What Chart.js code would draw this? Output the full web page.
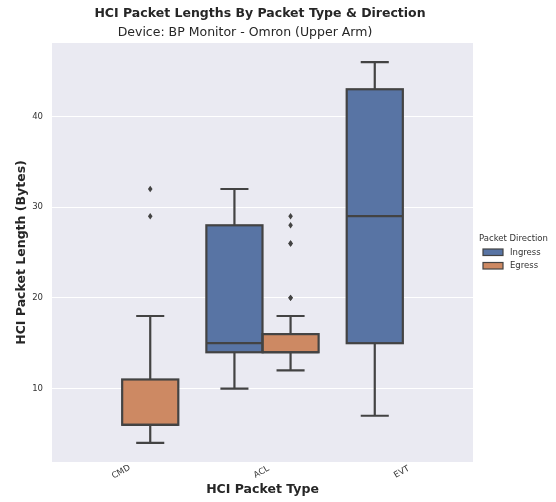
<!DOCTYPE html>
<html>
<head>
<meta charset="utf-8">
<script src="https://cdn.jsdelivr.net/npm/chart.js@4"></script>
<style>
  body { margin: 0; background: #fff; }
  #wrap { width: 556px; height: 502px; }
</style>
</head>
<body>
<div id="wrap"><canvas id="boxGraf"></canvas></div>
<script>
// data
const categories = ['CMD', 'ACL', 'EVT'];
const yTicks = [10, 20, 30, 40];

const ingressBox = [null, [14, 28], [15, 43]];
const ingressMedian = [null, 15, 29];
const ingressWhiskers = [null, [10, 32], [7, 46]];
const ingressOutliers = [[], [], []];

const egressBox = [[6, 11], [14, 16], null];
const egressMedian = [6, 14, null];
const egressWhiskers = [[4, 18], [12, 18], null];
const egressOutliers = [[29, 32], [20, 20, 26, 26, 28, 29], []];

const barvy = { ingress: '#5874a4', egress: '#cd8963', linka: '#434343', pozadi: '#eaeaf2' };
const pismo = 'DejaVu Sans';

const boxPlugin = {
    id: 'boxPlugin',
    beforeDraw(chart) {
        const { ctx, chartArea: a } = chart;
        ctx.save();
        ctx.fillStyle = barvy.pozadi;
        ctx.fillRect(a.left, a.top, a.right - a.left, a.bottom - a.top);
        ctx.restore();
    },
    afterDatasetsDraw(chart) {
        const { ctx } = chart;
        const y = chart.scales.y;
        const info = [
            { med: ingressMedian, wh: ingressWhiskers, out: ingressOutliers, box: ingressBox },
            { med: egressMedian, wh: egressWhiskers, out: egressOutliers, box: egressBox }
        ];
        ctx.save();
        ctx.strokeStyle = barvy.linka;
        ctx.fillStyle = barvy.linka;
        ctx.lineWidth = 2.2;
        ctx.lineCap = 'butt';
        info.forEach((s, i) => {
            const meta = chart.getDatasetMeta(i);
            meta.data.forEach((el, j) => {
                if (!s.box[j]) return;
                const x = el.x;
                const w = el.width;
                const cap = w / 4;
                const [lo, hi] = s.wh[j];
                const [q1, q3] = s.box[j];
                const p1 = y.getPixelForValue(q1);
                const p3 = y.getPixelForValue(q3);
                ctx.beginPath();
                ctx.moveTo(x, p3);
                ctx.lineTo(x, y.getPixelForValue(hi));
                ctx.moveTo(x - cap, y.getPixelForValue(hi));
                ctx.lineTo(x + cap, y.getPixelForValue(hi));
                ctx.moveTo(x, p1);
                ctx.lineTo(x, y.getPixelForValue(lo));
                ctx.moveTo(x - cap, y.getPixelForValue(lo));
                ctx.lineTo(x + cap, y.getPixelForValue(lo));
                const m = y.getPixelForValue(s.med[j]);
                ctx.moveTo(x - w / 2, m);
                ctx.lineTo(x + w / 2, m);
                ctx.stroke();
                ctx.strokeRect(x - w / 2, p3, w, p1 - p3);
                s.out[j].forEach(v => {
                    const py = y.getPixelForValue(v);
                    ctx.beginPath();
                    ctx.moveTo(x, py - 3.2);
                    ctx.lineTo(x + 2.3, py);
                    ctx.lineTo(x, py + 3.2);
                    ctx.lineTo(x - 2.3, py);
                    ctx.closePath();
                    ctx.fill();
                });
            });
        });
        ctx.restore();
    },
    afterDraw(chart) {
        const { ctx, chartArea: a } = chart;
        const x = chart.scales.x;
        ctx.save();
        ctx.fillStyle = '#262626';
        ctx.textAlign = 'center';
        ctx.textBaseline = 'middle';
        ctx.font = 'bold 12.5px "' + pismo + '"';
        ctx.fillText('HCI Packet Lengths By Packet Type & Direction', 260, 14);
        ctx.font = '12.5px "' + pismo + '"';
        ctx.fillText('Device: BP Monitor - Omron (Upper Arm)', 245, 33);
        ctx.font = 'bold 12.5px "' + pismo + '"';
        ctx.fillText('HCI Packet Type', (a.left + a.right) / 2, 490);
        ctx.save();
        ctx.translate(22, (a.top + a.bottom) / 2);
        ctx.rotate(-Math.PI / 2);
        ctx.fillText('HCI Packet Length (Bytes)', 0, 0);
        ctx.restore();

        // popisky kategorii otocene o 30 stupnu
        ctx.font = '8.5px "' + pismo + '"';
        ctx.fillStyle = '#333333';
        categories.forEach((c, i) => {
            ctx.save();
            ctx.translate(x.getPixelForValue(i) - 1, 472);
            ctx.rotate(-Math.PI / 6);
            ctx.fillText(c, 0, 0);
            ctx.restore();
        });

        // legenda
        ctx.textAlign = 'left';
        ctx.font = '8.5px "' + pismo + '"';
        ctx.fillText('Packet Direction', 479, 239);
        [['Ingress', barvy.ingress], ['Egress', barvy.egress]].forEach(([t, c], i) => {
            const ly = 252 + i * 13.5;
            ctx.fillStyle = c;
            ctx.fillRect(483, ly - 3, 20, 6.5);
            ctx.strokeStyle = barvy.linka;
            ctx.lineWidth = 1.2;
            ctx.strokeRect(483, ly - 3, 20, 6.5);
            ctx.fillStyle = '#333333';
            ctx.fillText(t, 510, ly + 0.5);
        });
        ctx.restore();
    }
};

new Chart(document.getElementById('boxGraf'), {
    type: 'bar',
    data: {
        labels: categories,
        datasets: [
            {
                label: 'Ingress',
                data: ingressBox,
                backgroundColor: barvy.ingress,
                borderWidth: 0
            },
            {
                label: 'Egress',
                data: egressBox,
                backgroundColor: barvy.egress,
                borderWidth: 0
            }
        ]
    },
    options: {
        responsive: true,
        maintainAspectRatio: false,
        animation: false,
        events: [],
        categoryPercentage: 0.8,
        barPercentage: 1.0,
        layout: { padding: { top: 43, right: 83, bottom: 0, left: 0 } },
        plugins: {
            legend: { display: false },
            tooltip: { enabled: false }
        },
        scales: {
            x: {
                grid: { display: false },
                border: { display: false },
                ticks: { display: false },
                afterFit: scale => { scale.height = 40; }
            },
            y: {
                min: 1.9,
                max: 48.1,
                afterFit: scale => { scale.width = 52; },
                afterBuildTicks: scale => { scale.ticks = yTicks.map(v => ({ value: v })); },
                grid: { color: '#ffffff', lineWidth: 1, drawTicks: false },
                border: { display: false },
                ticks: {
                    padding: 9,
                    color: '#333333',
                    font: { family: pismo, size: 8.5 }
                }
            }
        }
    },
    plugins: [boxPlugin]
});
</script>
</body>
</html>
